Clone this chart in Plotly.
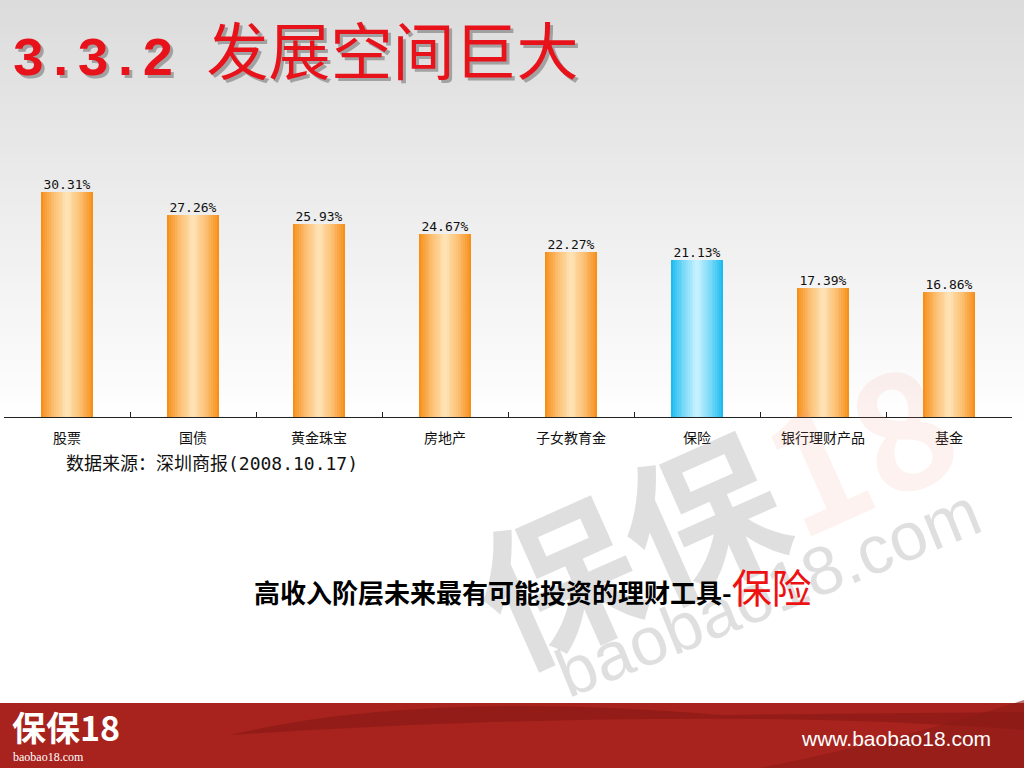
import plotly.graph_objects as go

# ---- data ----
categories = ["股票", "国债", "黄金珠宝", "房地产", "子女教育金", "保险", "银行理财产品", "基金"]
values = [30.31, 27.26, 25.93, 24.67, 22.27, 21.13, 17.39, 16.86]
highlight = "保险"
labels = [f"{v:.2f}%" for v in values]

W, H = 1024, 768
ML, MR, MT, MB = 4, 12, 157, 351
PW, PH = W - ML - MR, H - MT - MB


def px(x):
    return (x - ML) / PW


def py(y):
    return (H - MB - y) / PH


def mix(c1, c2, t):
    a = [int(c1[i:i + 2], 16) for i in (1, 3, 5)]
    b = [int(c2[i:i + 2], 16) for i in (1, 3, 5)]
    return "#%02x%02x%02x" % tuple(round(a[j] + (b[j] - a[j]) * t) for j in range(3))


ORANGE_EDGE, ORANGE_CENTER = "#f7901a", "#ffe2b4"
BLUE_EDGE, BLUE_CENTER = "#1cbbf0", "#c4f1ff"
MONO = "DejaVu Sans Mono"
CJK = "Noto Sans CJK SC"

fig = go.Figure()
N = 14
BW = 0.405
for k in range(N):
    t = (k / (N - 1)) ** 0.8
    cols = [mix(BLUE_EDGE, BLUE_CENTER, t) if c == highlight else mix(ORANGE_EDGE, ORANGE_CENTER, t)
            for c in categories]
    last = k == N - 1
    fig.add_trace(go.Bar(
        x=categories, y=values,
        width=BW * (1 - k / N),
        marker=dict(color=cols, line=dict(width=0)),
        text=labels if last else None,
        textposition="outside" if last else None,
        constraintext="none",
        cliponaxis=False,
        textfont=dict(size=13, color="#111111", family=MONO),
        hoverinfo="skip", showlegend=False,
    ))

shapes = []
# background gradient
NS = 50
top_c, bot_c = "#dcdcdc", "#ffffff"
for i in range(NS):
    y0p = i * 430 / NS
    y1p = (i + 1) * 430 / NS + 1
    shapes.append(dict(type="rect", xref="paper", yref="paper", layer="below",
                       x0=px(0), x1=px(W), y0=py(y1p), y1=py(y0p),
                       fillcolor=mix(top_c, bot_c, i / (NS - 1)), line=dict(width=0)))
# bottom red band
shapes.append(dict(type="rect", xref="paper", yref="paper", layer="above",
                   x0=px(0), x1=px(W), y0=py(H), y1=py(703),
                   fillcolor="#a8231e", line=dict(width=0)))
# swoosh
shapes.append(dict(type="path", xref="paper", yref="paper", layer="above",
                   path=f"M {px(230)} {py(735)} Q {px(420)} {py(690)} {px(720)} {py(715)} "
                        f"L {px(1024)} {py(712)} L {px(1024)} {py(730)} Q {px(700)} {py(705)} {px(230)} {py(735)} Z",
                   fillcolor="#8c1a16", line=dict(width=0), opacity=0.7))
shapes.append(dict(type="path", xref="paper", yref="paper", layer="above",
                   path=f"M {px(760)} {py(768)} Q {px(900)} {py(740)} {px(1024)} {py(700)} "
                        f"L {px(1024)} {py(768)} Z",
                   fillcolor="#8c1a16", line=dict(width=0), opacity=0.6))

ann = []
# watermark
ann.append(dict(xref="paper", yref="paper", x=px(712), y=py(505), xanchor="center", yanchor="middle",
                showarrow=False,
                text="<b>保保<span style='color:rgba(235,140,125,0.38)'>18</span></b>",
                textangle=-24, font=dict(size=158, family=CJK, color="rgba(150,150,150,0.30)")))
ann.append(dict(xref="paper", yref="paper", x=px(768), y=py(592), xanchor="center", yanchor="middle",
                showarrow=False, text="baobao18.com", textangle=-22,
                font=dict(size=68, family="Liberation Sans", color="rgba(150,150,150,0.30)")))
# title with shadow
title = f"<span style=\"font-family:'Liberation Mono';font-size:54px;font-weight:bold\">3.3.2 </span>发展空间巨大"
for dx, dy, col in [(3, 3, "rgba(110,110,110,0.55)"), (0, 0, "#e8121a")]:
    ann.append(dict(xref="paper", yref="paper", x=px(10 + dx), y=py(48 + dy), xanchor="left", yanchor="middle",
                    showarrow=False, text=title,
                    font=dict(size=62, family=CJK, color=col)))
# source
ann.append(dict(xref="paper", yref="paper", x=px(64), y=py(462), xanchor="left", yanchor="middle",
                showarrow=False,
                text=f"数据来源：深圳商报<span style=\"font-family:'{MONO}'\">(2008.10.17)</span>",
                font=dict(size=18, family=CJK, color="#111111")))
# subtitle
ann.append(dict(xref="paper", yref="paper", x=px(252), y=py(586), xanchor="left", yanchor="middle",
                showarrow=False,
                text="<b>高收入阶层未来最有可能投资的理财工具-</b><span style='color:#ee1111;font-size:40px'>保险</span>",
                font=dict(size=26, family=CJK, color="#000000")))
# logo + url
ann.append(dict(xref="paper", yref="paper", x=px(10), y=py(726), xanchor="left", yanchor="middle",
                showarrow=False, text="<b>保保18</b>",
                font=dict(size=34, family=CJK, color="#ffffff")))
ann.append(dict(xref="paper", yref="paper", x=px(11), y=py(757), xanchor="left", yanchor="middle",
                showarrow=False, text="baobao18.com",
                font=dict(size=12, family="Liberation Serif", color="#ffffff")))
ann.append(dict(xref="paper", yref="paper", x=px(993), y=py(738), xanchor="right", yanchor="middle",
                showarrow=False, text="www.baobao18.com",
                font=dict(size=21, family="Liberation Sans", color="#ffffff")))

fig.update_layout(
    width=W, height=H,
    margin=dict(l=ML, r=MR, t=MT, b=MB, autoexpand=False),
    paper_bgcolor="#ffffff", plot_bgcolor="rgba(0,0,0,0)",
    barmode="overlay", bargap=0,
    shapes=shapes, annotations=ann,
    xaxis=dict(showline=True, linecolor="#222222", linewidth=1, ticks="inside", ticklen=5,
               tickcolor="#222222", tickson="boundaries", showgrid=False, fixedrange=True,
               tickfont=dict(size=14, family=CJK, color="#111111"), ticklabelstandoff=8),
    yaxis=dict(range=[0, 35], visible=False, showgrid=False, fixedrange=True),
    font=dict(family=CJK),
)

fig.write_html("out.html", config={"displayModeBar": False},
               post_script="document.body.style.margin='0';document.body.style.overflow='hidden';")
